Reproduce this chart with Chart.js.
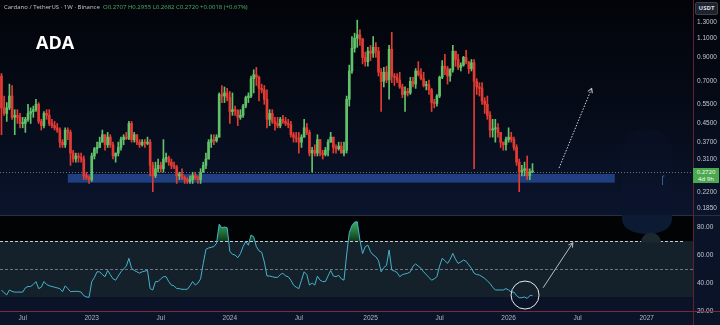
<!DOCTYPE html>
<html>
<head>
<meta charset="utf-8">
<script src="https://cdn.jsdelivr.net/npm/chart.js@4.4.1/dist/chart.umd.min.js"></script>
<style>
  html, body { margin: 0; padding: 0; }
  body { width: 720px; height: 325px; overflow: hidden; position: relative; background: #05070d; font-family: 'Open Sans', sans-serif; }
  canvas { position: absolute; left: 0; }
  #priceChart { top: 0; }
  #rsiChart { top: 215px; }
  .header { position: absolute; left: 4px; top: 3px; font-size: 6px; line-height: 8px; color: #c5c8d0; white-space: nowrap; }
  .header .v { color: #4fb26a; }
  .ticker { position: absolute; left: 36px; top: 33px; font-size: 18px; line-height: 18px; font-weight: 700; color: #fff; }
  .unit { position: absolute; left: 695px; top: 2px; width: 23px; height: 13px; background: #1f232c; border: 1px solid #3a3f4a; box-sizing: border-box; border-radius: 2px; color: #d8dbe2; font-size: 6px; line-height: 11px; text-align: center; font-weight: 700; }
  .tag { position: absolute; left: 693px; width: 26px; height: 15px; background: #4aa84e; color: #fff; font-size: 6px; line-height: 7px; text-align: center; padding-top: 1px; box-sizing: border-box; }
  .rule { position: absolute; background: #7a2a3b; }
</style>
</head>
<body>
<canvas id="priceChart" width="720" height="215"></canvas>
<canvas id="rsiChart" width="720" height="110"></canvas>
<div class="rule" style="left:0;top:311px;width:720px;height:1px"></div>
<div class="rule" style="left:693px;top:0;width:1px;height:325px;background:#5e2231"></div>
<div class="header">Cardano / TetherUS · 1W · Binance&nbsp; <span class="v">O0.2707 H0.2955 L0.2682 C0.2720 +0.0018 (+0.67%)</span></div>
<div class="ticker">ADA</div>
<div class="unit">USDT</div>
<div class="tag" id="lastTag">0.2720<br>4d 9h</div>
<script>
// weekly candles, week 0 = Jul 4 2022
const firstWeek = -8;
const firstOpen = 0.74;
const closes = [
  .53,.50,.53,.60,.48,.49,.48,.45,.45,.47,
  .50,.51,.52,.55,.46,.44,.50,.49,.45,.44,
  .43,.42,.37,.36,.42,.41,.33,.31,.32,.315,
  .31,.26,.255,.25,.32,.345,.35,.37,.40,.36,
  .39,.36,.32,.33,.35,.38,.39,.385,.45,.38,
  .40,.37,.36,.37,.365,.37,.29,.26,.28,.29,
  .28,.31,.315,.30,.29,.285,.26,.265,.255,.25,
  .245,.25,.26,.255,.25,.27,.29,.31,.37,.38,
  .375,.39,.61,.60,.62,.59,.51,.52,.515,.48,
  .49,.54,.59,.60,.72,.75,.73,.65,.64,.58,
  .47,.50,.46,.45,.44,.47,.46,.45,.445,.40,
  .39,.385,.37,.39,.43,.41,.33,.34,.33,.38,
  .33,.325,.34,.37,.39,.35,.345,.355,.33,.34,
  .58,.78,.99,1.10,1.14,1.09,.90,.86,.96,.94,
  1.00,.96,.77,.70,.77,.71,.98,.74,.73,.71,
  .66,.61,.63,.62,.70,.68,.78,.75,.72,.67,
  .675,.64,.56,.555,.60,.73,.82,.80,.74,.79,
  .96,.88,.81,.83,.90,.86,.80,.85,.70,.66,
  .65,.57,.55,.49,.42,.425,.43,.41,.37,.36,
  .38,.39,.38,.35,.30,.27,.275,.28,.26,.2707,
  .2720
];
const highs = [
  .76,.60,.56,.68,.67,.52,.52,.50,.48,.48,
  .55,.53,.54,.58,.56,.47,.51,.52,.52,.47,
  .46,.45,.43,.38,.43,.43,.42,.34,.33,.33,
  .33,.32,.27,.26,.33,.35,.37,.39,.42,.40,
  .41,.40,.37,.33,.37,.39,.40,.41,.46,.46,
  .41,.40,.38,.38,.38,.39,.38,.30,.30,.31,
  .30,.38,.33,.32,.31,.30,.29,.27,.28,.26,
  .255,.26,.27,.27,.26,.28,.30,.33,.38,.40,
  .40,.40,.62,.67,.66,.65,.63,.62,.54,.52,
  .52,.55,.60,.62,.74,.79,.81,.74,.68,.67,
  .64,.52,.52,.48,.48,.48,.49,.48,.47,.46,
  .41,.41,.41,.40,.47,.45,.42,.35,.36,.40,
  .38,.34,.35,.38,.41,.39,.36,.37,.37,.37,
  .60,.83,1.12,1.16,1.33,1.20,1.10,.95,1.00,1.02,
  1.12,1.05,1.00,.80,.81,.82,1.02,1.17,.76,.76,
  .77,.68,.66,.65,.73,.73,.80,.86,.80,.77,
  .70,.71,.65,.58,.61,.74,.87,.93,.82,.80,
  1.02,.96,.93,.85,.91,.97,.86,.88,.88,.72,
  .69,.69,.59,.60,.51,.47,.47,.45,.41,.37,
  .39,.43,.41,.39,.36,.31,.29,.30,.32,.28,
  .2955
];
const lows = [
  .40,.49,.46,.52,.47,.40,.45,.43,.43,.41,
  .46,.45,.48,.51,.45,.42,.43,.47,.44,.43,
  .42,.41,.35,.35,.35,.38,.29,.30,.30,.30,
  .30,.25,.25,.24,.245,.31,.33,.35,.37,.34,
  .35,.35,.31,.30,.32,.34,.36,.38,.38,.37,
  .37,.36,.35,.355,.35,.36,.26,.22,.255,.27,
  .27,.27,.30,.29,.28,.28,.24,.25,.25,.24,
  .24,.24,.24,.25,.24,.24,.27,.28,.31,.35,
  .36,.37,.39,.56,.56,.57,.45,.49,.49,.44,
  .47,.48,.53,.56,.59,.62,.67,.57,.62,.55,
  .43,.44,.45,.42,.43,.43,.45,.44,.43,.39,
  .37,.37,.33,.35,.39,.40,.32,.27,.32,.32,
  .32,.31,.32,.32,.37,.33,.33,.34,.33,.32,
  .33,.54,.76,.95,1.00,1.02,.84,.82,.82,.87,
  .90,.90,.74,.51,.66,.69,.58,.69,.67,.69,
  .65,.59,.51,.60,.61,.66,.65,.74,.71,.66,
  .64,.61,.51,.53,.54,.59,.72,.75,.68,.70,
  .77,.82,.79,.78,.82,.84,.76,.78,.28,.61,
  .60,.55,.50,.47,.39,.39,.37,.39,.35,.34,
  .34,.37,.37,.34,.29,.22,.26,.26,.25,.25,
  .2682
];
// RSI(14)
const rsi = [
  35,33,31.5,35,34,33.5,33.5,33.5,33.5,36.5,
  37.5,37.5,39,41,36,37,41,39,38,37.5,
  37,36.5,36,33.8,38,36,33.8,34,34,34,
  33.5,31,30,29.8,41,44,48,48,46,44.5,
  49,46,43,42,45,48,50,52,57.6,50.5,
  49,48,47,48,48.5,49,36,35,41,41,
  43,44.5,44.5,41,38.5,38,36,36,35.5,35.5,
  35.5,38,41,38.5,40,43,54,64,65,65.5,
  66,68.3,82,79.5,80,79.5,62.6,60.5,60,58,
  61,66,69.5,67,74.3,73,66,63,62,55,
  45,45,44.5,44,44,46,47,45,44.5,42,
  38.5,37,36,42,48,46,38.5,40,38.5,44.9,
  42,41,41,45,49,45,44.5,45.5,43,42,
  60,76,81,83.5,83.8,70.7,61,66,67,62.4,
  60,58.8,56,48,51,52.5,63.6,49.3,48.5,47.5,
  44.5,46,46.5,47,48,52,53.6,52,50.5,48,
  46,44,42,43,44.5,52,57.6,56,54,57,
  61.2,57,54,55,56.4,55.5,53,50.5,47,46,
  45.7,44.5,43.3,41.5,39.7,37,35,35,35,35,
  36,35,33.5,33.5,31,29.5,29.5,30,29,31,
  31.2
];

const priceTicks = [1.3, 1.1, 0.9, 0.7, 0.55, 0.45, 0.37, 0.31, 0.22, 0.185];
const rsiTicks = [20, 40, 60, 80];
const timeTickWeeks = [0, 26, 52, 78, 104, 131, 157, 183, 209, 235];
const timeTickLabels = ['Jul', '2023', 'Jul', '2024', 'Jul', '2025', 'Jul', '2026', 'Jul', '2027'];

// drawings
const zoneWeeks = [17, 223];
const zonePrices = [0.242, 0.265];
const priceArrow = [[202, 0.282], [214.3, 0.651]];
const rsiArrow = [[196, 36.6], [207.2, 68.8]];
const rsiCircle = [189.2, 31.4];

const xMin = -8.55, xMax = 252.45;
const upColor = '#62c26a', downColor = '#e33b33';

const opens = closes.map((c, i) => i === 0 ? firstOpen : closes[i - 1]);
const colors = closes.map((c, i) => c >= opens[i] ? upColor : downColor);
const weekOf = i => firstWeek + i;

function drawArrow(ctx, x0, y0, x1, y1, color, dash) {
  ctx.save();
  ctx.strokeStyle = color;
  ctx.lineWidth = 1;
  ctx.setLineDash(dash);
  ctx.beginPath(); ctx.moveTo(x0, y0); ctx.lineTo(x1, y1); ctx.stroke();
  ctx.setLineDash([]);
  const a = Math.atan2(y1 - y0, x1 - x0), h = 5;
  ctx.beginPath();
  ctx.moveTo(x1 - h * Math.cos(a - 0.5), y1 - h * Math.sin(a - 0.5));
  ctx.lineTo(x1, y1);
  ctx.lineTo(x1 - h * Math.cos(a + 0.5), y1 - h * Math.sin(a + 0.5));
  ctx.stroke();
  ctx.restore();
}

const priceBg = {
  id: 'priceBg',
  beforeDraw(chart) {
    const {ctx, width, height} = chart;
    const g = ctx.createLinearGradient(0, 0, 0, height);
    g.addColorStop(0, '#020409');
    g.addColorStop(0.45, '#050a16');
    g.addColorStop(1, '#0a142c');
    ctx.save();
    ctx.fillStyle = g;
    ctx.fillRect(0, 0, width, height);
    // faint blurred patch at the right
    ctx.fillStyle = 'rgba(12,24,48,0.22)';
    ctx.beginPath();
    ctx.roundRect(622, 128, 50, 100, 24);
    ctx.fill();
    ctx.restore();
  },
  beforeDatasetsDraw(chart) {
    const {ctx, chartArea, scales: {x, y}} = chart;
    ctx.save();
    const x0 = x.getPixelForValue(zoneWeeks[0]), x1 = x.getPixelForValue(zoneWeeks[1]);
    const y0 = y.getPixelForValue(zonePrices[1]), y1 = y.getPixelForValue(zonePrices[0]);
    ctx.fillStyle = '#1f3f80';
    ctx.fillRect(x0, y0, x1 - x0, y1 - y0);
    const ly = Math.round(y.getPixelForValue(closes[closes.length - 1])) + 0.5;
    ctx.strokeStyle = '#6a7080';
    ctx.setLineDash([1, 2]);
    ctx.beginPath(); ctx.moveTo(chartArea.left, ly); ctx.lineTo(chartArea.right, ly); ctx.stroke();
    // small bracket mark at the right
    ctx.setLineDash([]);
    ctx.strokeStyle = '#3c5a92';
    ctx.beginPath(); ctx.moveTo(664.5, 176); ctx.lineTo(662.5, 176); ctx.lineTo(662.5, 185); ctx.stroke();
    ctx.restore();
  },
  afterDatasetsDraw(chart) {
    const {ctx, scales: {x, y}} = chart;
    drawArrow(ctx,
      x.getPixelForValue(priceArrow[0][0]), y.getPixelForValue(priceArrow[0][1]),
      x.getPixelForValue(priceArrow[1][0]), y.getPixelForValue(priceArrow[1][1]),
      '#d5d8de', [1.5, 1.5]);
  }
};

const priceChart = new Chart(document.getElementById('priceChart'), {
  type: 'bar',
  data: {
    datasets: [
      {
        data: closes.map((c, i) => ({x: weekOf(i), y: [lows[i], highs[i]]})),
        backgroundColor: colors,
        barThickness: 1,
        grouped: false
      },
      {
        data: closes.map((c, i) => ({x: weekOf(i), y: [opens[i], c]})),
        backgroundColor: colors,
        barThickness: 2,
        minBarLength: 1,
        grouped: false
      }
    ]
  },
  options: {
    responsive: false,
    animation: false,
    devicePixelRatio: 1,
    events: [],
    layout: {padding: 0},
    plugins: {legend: {display: false}, tooltip: {enabled: false}},
    scales: {
      x: {type: 'linear', min: xMin, max: xMax, offset: false, display: false},
      y: {
        type: 'logarithmic',
        position: 'right',
        min: 0.1724,
        max: 1.642,
        grid: {display: false, drawTicks: false},
        border: {display: false},
        ticks: {color: '#c3c6ce', font: {size: 6.5}, padding: 4, callback: v => Number(v).toFixed(4)},
        afterBuildTicks: s => { s.ticks = priceTicks.map(v => ({value: v})); },
        afterFit: s => { s.width = 27; s.paddingTop = 0; s.paddingBottom = 0; }
      }
    }
  },
  plugins: [priceBg]
});

const tagY = priceChart.scales.y.getPixelForValue(closes[closes.length - 1]);
document.getElementById('lastTag').style.top = (tagY - 4) + 'px';

const rsiBg = {
  id: 'rsiBg',
  beforeDraw(chart) {
    const {ctx, width, height, chartArea: a, scales: {y}} = chart;
    const y70 = y.getPixelForValue(70), y30 = y.getPixelForValue(30);
    ctx.save();
    ctx.fillStyle = '#0a1328';
    ctx.fillRect(0, 0, width, height);
    ctx.fillStyle = '#010305';
    ctx.fillRect(a.left, a.top, a.right - a.left, y70 - a.top);
    ctx.fillStyle = '#14212a';
    ctx.fillRect(a.left, y70, a.right - a.left, y30 - y70);
    ctx.fillStyle = '#2a2f3b';
    ctx.fillRect(0, 0, width, 1);
    ctx.restore();
  },
  beforeDatasetsDraw(chart) {
    const {ctx, chartArea: a, scales: {y}} = chart;
    ctx.save();
    ctx.lineWidth = 1;
    ctx.setLineDash([3, 2]);
    ctx.strokeStyle = '#c8ccd2';
    const y70 = Math.round(y.getPixelForValue(70)) + 0.5;
    ctx.beginPath(); ctx.moveTo(a.left, y70); ctx.lineTo(a.right - 10, y70); ctx.stroke();
    ctx.strokeStyle = '#6f7580';
    const y50 = Math.round(y.getPixelForValue(50)) + 0.5;
    ctx.beginPath(); ctx.moveTo(a.left, y50); ctx.lineTo(a.right, y50); ctx.stroke();
    // blurred patch covering the top right of the panel
    ctx.setLineDash([]);
    ctx.fillStyle = '#0c1a33';
    ctx.beginPath();
    ctx.moveTo(622, 0);
    ctx.lineTo(672, 0);
    ctx.lineTo(672, 4);
    ctx.bezierCurveTo(672, 24, 622, 24, 622, 4);
    ctx.closePath();
    ctx.fill();
    ctx.fillStyle = '#1b2830';
    ctx.beginPath();
    ctx.arc(651, y70 + 1, 10, Math.PI, 0);
    ctx.fill();
    ctx.restore();
  },
  afterDatasetsDraw(chart) {
    const {ctx, scales: {x, y}} = chart;
    drawArrow(ctx,
      x.getPixelForValue(rsiArrow[0][0]), y.getPixelForValue(rsiArrow[0][1]),
      x.getPixelForValue(rsiArrow[1][0]), y.getPixelForValue(rsiArrow[1][1]),
      '#b8bcc4', []);
    ctx.save();
    ctx.strokeStyle = '#e6e8ec';
    ctx.lineWidth = 1;
    ctx.beginPath();
    ctx.arc(x.getPixelForValue(rsiCircle[0]), y.getPixelForValue(rsiCircle[1]), 14, 0, Math.PI * 2);
    ctx.stroke();
    ctx.restore();
  }
};

const rsiCanvas = document.getElementById('rsiChart');
const greenFill = rsiCanvas.getContext('2d').createLinearGradient(0, 8, 0, 26);
greenFill.addColorStop(0, '#3aa65a');
greenFill.addColorStop(1, '#0d3a1a');

new Chart(rsiCanvas, {
  type: 'line',
  data: {
    datasets: [{
      data: rsi.map((v, i) => ({x: weekOf(i), y: v})),
      borderColor: '#46b2cc',
      borderWidth: 1,
      pointRadius: 0,
      tension: 0,
      fill: {target: {value: 70}, above: greenFill, below: 'rgba(0,0,0,0)'}
    }]
  },
  options: {
    responsive: false,
    animation: false,
    devicePixelRatio: 1,
    events: [],
    layout: {padding: 0},
    plugins: {legend: {display: false}, tooltip: {enabled: false}},
    scales: {
      x: {
        type: 'linear', min: xMin, max: xMax, offset: false,
        grid: {display: false, drawTicks: false},
        border: {display: false},
        ticks: {color: '#b2b5be', font: {size: 6.5}, padding: 3, autoSkip: false, maxRotation: 0,
          callback: (v, i) => timeTickLabels[i]},
        afterBuildTicks: s => { s.ticks = timeTickWeeks.map(v => ({value: v})); },
        afterFit: s => { s.height = 14; s.paddingLeft = 0; s.paddingRight = 0; }
      },
      y: {
        type: 'linear', position: 'right', min: 20, max: 88.57,
        grid: {display: false, drawTicks: false},
        border: {display: false},
        ticks: {color: '#c3c6ce', font: {size: 6.5}, padding: 4, callback: v => Number(v).toFixed(2)},
        afterBuildTicks: s => { s.ticks = rsiTicks.map(v => ({value: v})); },
        afterFit: s => { s.width = 27; s.paddingTop = 0; s.paddingBottom = 0; }
      }
    }
  },
  plugins: [rsiBg]
});
</script>
</body>
</html>
